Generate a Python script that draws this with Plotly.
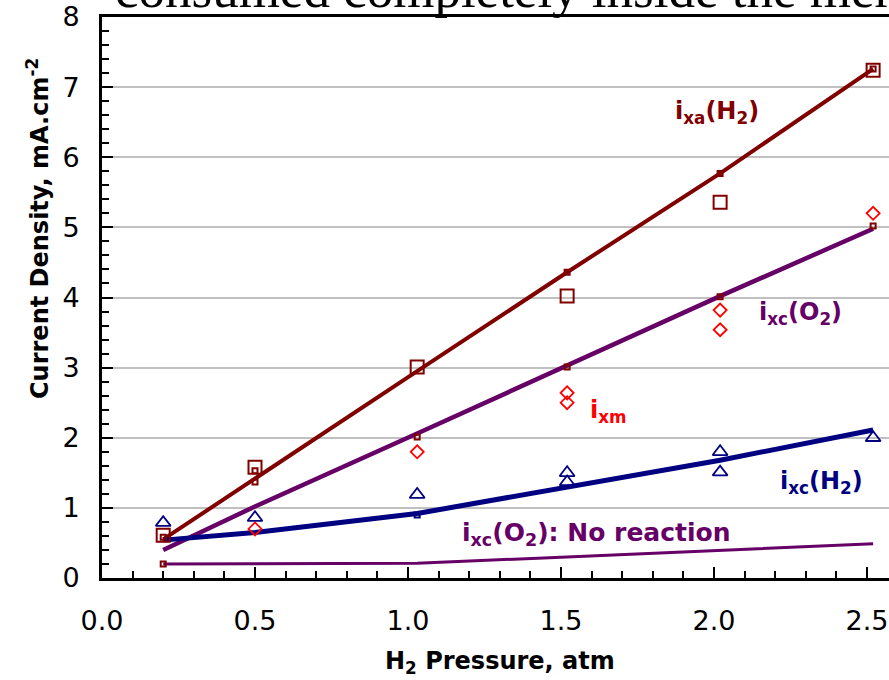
import plotly.graph_objects as go

# ---------------- data ----------------
pressure = [0.2, 0.5, 1.03, 1.52, 2.02, 2.52]

ixa_H2_exp = [0.61, 1.58, 3.01, 4.02, 5.36, 7.24]
ixa_H2_model = [0.55, 1.42, 2.95, 4.36, 5.77, 7.26]
ixc_O2_model = [0.40, 1.02, 2.06, 3.03, 4.02, 4.98]
ixc_H2_model = [0.54, 0.65, 0.92, 1.29, 1.68, 2.11]

noreact_x = [0.2, 1.03, 1.52, 2.02, 2.52]
noreact_y = [0.20, 0.21, 0.30, 0.39, 0.49]

ixm_x = [0.5, 1.03, 1.52, 1.52, 2.02, 2.02, 2.52]
ixm_y = [0.70, 1.80, 2.64, 2.50, 3.82, 3.54, 5.20]

ixcH2_exp_x = [0.2, 0.5, 1.03, 1.52, 1.52, 2.02, 2.02, 2.52]
ixcH2_exp_y = [0.79, 0.86, 1.19, 1.50, 1.37, 1.80, 1.51, 2.00]

small_x = [0.2, 0.2, 0.5, 0.5, 1.03, 1.52, 1.52, 2.02, 2.02, 2.52, 2.52]
small_y = [0.58, 0.20, 1.53, 1.37, 2.01, 4.36, 3.01, 5.77, 4.01, 7.26, 5.02]
small_navy_x = [1.03]
small_navy_y = [0.90]

x_ticks = [0.0, 0.5, 1.0, 1.5, 2.0, 2.5]
y_ticks = [0, 1, 2, 3, 4, 5, 6, 7, 8]

DARKRED = "#800000"
PURPLE = "#660066"
NAVY = "#000080"
RED = "#FF0000"
SANS = "DejaVu Sans"

fig = go.Figure()

fig.add_trace(go.Scatter(x=pressure, y=ixa_H2_model, mode="lines",
                         line=dict(color=DARKRED, width=4)))
fig.add_trace(go.Scatter(x=pressure, y=ixc_O2_model, mode="lines",
                         line=dict(color=PURPLE, width=4.5)))
fig.add_trace(go.Scatter(x=pressure, y=ixc_H2_model, mode="lines",
                         line=dict(color=NAVY, width=5)))
fig.add_trace(go.Scatter(x=noreact_x, y=noreact_y, mode="lines",
                         line=dict(color=PURPLE, width=3)))

fig.add_trace(go.Scatter(x=small_x, y=small_y, mode="markers",
                         marker=dict(symbol="square-open", size=5, color=DARKRED,
                                     line=dict(color=DARKRED, width=2))))
fig.add_trace(go.Scatter(x=small_navy_x, y=small_navy_y, mode="markers",
                         marker=dict(symbol="square-open", size=5, color=NAVY,
                                     line=dict(color=NAVY, width=2))))

fig.add_trace(go.Scatter(x=pressure, y=ixa_H2_exp, mode="markers",
                         marker=dict(symbol="square-open", size=13, color=DARKRED,
                                     line=dict(color=DARKRED, width=2))))
fig.add_trace(go.Scatter(x=ixm_x, y=ixm_y, mode="markers",
                         marker=dict(symbol="diamond-open", size=10, color=RED,
                                     line=dict(color=RED, width=1.8))))
fig.add_trace(go.Scatter(x=ixcH2_exp_x, y=ixcH2_exp_y, mode="markers",
                         marker=dict(symbol="triangle-up-open", size=13, color=NAVY,
                                     line=dict(color=NAVY, width=1.8))))

labels = [
    ("<b>i<sub>xa</sub>(H<sub>2</sub>)</b>", 2.01, 6.64, DARKRED, 24),
    ("<b>i<sub>xc</sub>(O<sub>2</sub>)</b>", 2.283, 3.77, PURPLE, 24),
    ("<b>i<sub>xm</sub></b>", 1.655, 2.37, RED, 24),
    ("<b>i<sub>xc</sub>(H<sub>2</sub>)</b>", 2.352, 1.36, NAVY, 24),
    ("<b>i<sub>xc</sub>(O<sub>2</sub>): No reaction</b>", 1.616, 0.63, PURPLE, 25),
]
for txt, lx, ly, col, fs in labels:
    fig.add_annotation(x=lx, y=ly, xref="x", yref="y", text=txt, showarrow=False,
                       font=dict(family=SANS, size=fs, color=col),
                       xanchor="center", yanchor="middle")

# axis titles
fig.add_annotation(x=(500 - 102) / 787, y=(578 - 662) / 561, xref="paper", yref="paper",
                   text="<b>H<sub>2</sub> Pressure, atm</b>", showarrow=False,
                   font=dict(family=SANS, size=24, color="black"),
                   xanchor="center", yanchor="middle")
fig.add_annotation(x=(38 - 102) / 787, y=(578 - 229) / 561, xref="paper", yref="paper",
                   text="<b>Current Density, mA.cm<sup>-2</sup></b>", showarrow=False,
                   textangle=-90,
                   font=dict(family=SANS, size=24, color="black"),
                   xanchor="center", yanchor="middle")

# cut-off serif text at the very top
fig.add_annotation(x=(113 - 102) / 787, y=(578 - 20) / 561, xref="paper", yref="paper",
                   text="consumed completely inside the membrane", showarrow=False,
                   font=dict(family="Liberation Serif", size=53, color="black"),
                   xanchor="left", yanchor="bottom")

fig.update_layout(
    width=889, height=680,
    margin=dict(l=102, r=0, t=17, b=102),
    paper_bgcolor="white", plot_bgcolor="white",
    showlegend=False,
    font=dict(family=SANS, color="black"),
)
fig.update_xaxes(
    range=[0, 787 / 306], tickvals=x_ticks, ticktext=[f"{v:.1f}" for v in x_ticks],
    ticks="inside", ticklen=11, tickwidth=1.5, tickcolor="black",
    minor=dict(dtick=0.1, ticks="inside", ticklen=7, tickwidth=1.5, tickcolor="black", showgrid=False),
    showline=True, linewidth=3, linecolor="black", mirror=True,
    showgrid=False, zeroline=False,
    tickfont=dict(family=SANS, size=27, color="black"),
    ticklabelstandoff=17,
)
fig.update_yaxes(
    range=[0, 8], tickvals=y_ticks,
    ticks="inside", ticklen=11, tickwidth=1.5, tickcolor="black",
    minor=dict(dtick=0.2, ticks="inside", ticklen=7, tickwidth=1.5, tickcolor="black", showgrid=False),
    showline=True, linewidth=3, linecolor="black", mirror=False,
    showgrid=True, gridcolor="#C0C0C0", gridwidth=1.5, zeroline=False,
    tickfont=dict(family=SANS, size=27, color="black"),
    ticklabelstandoff=14,
)

fig.write_html("out.html", config={"displayModeBar": False},
               post_script="document.body.style.margin='0px';document.body.style.overflow='hidden';")
